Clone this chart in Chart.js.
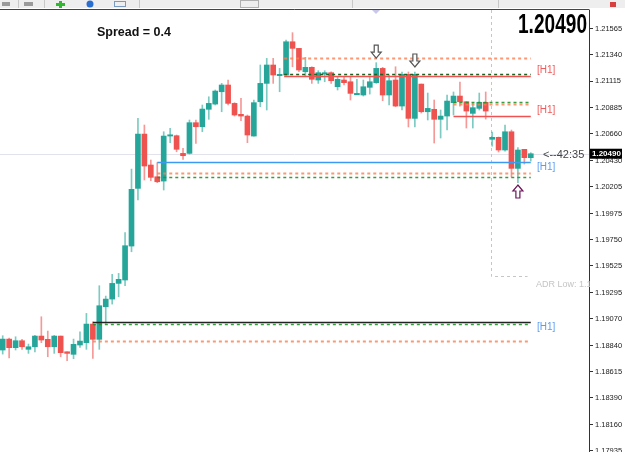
<!DOCTYPE html>
<html>
<head>
<meta charset="utf-8">
<script src="https://cdn.jsdelivr.net/npm/chart.js@4.4.0/dist/chart.umd.min.js"></script>
<style>
    html, body { margin: 0; padding: 0; background: #ffffff; overflow: hidden; }
    #grafico { display: block; }
</style>
</head>
<body>
<canvas id="grafico" width="625" height="452"></canvas>
<script>
// candles, oldest first
const opens = [
    1.18802, 1.18896, 1.18822, 1.18882, 1.18808, 1.18830, 1.18922, 1.18894, 1.18830, 1.18922,
    1.18787, 1.18765, 1.18845, 1.18865, 1.19025, 1.18894, 1.19174, 1.19240, 1.19375, 1.19404,
    1.19696, 1.20192, 1.20659, 1.20393, 1.20292, 1.20255, 1.20642, 1.20645, 1.20493, 1.20493,
    1.20757, 1.20722, 1.20872, 1.20917, 1.21023, 1.21081, 1.20923, 1.20829, 1.20814, 1.20642,
    1.20937, 1.21095, 1.21253, 1.21161, 1.21167, 1.21453, 1.21396, 1.21195, 1.21233, 1.21124,
    1.21175, 1.21187, 1.21066, 1.21124, 1.21109, 1.20997, 1.20995, 1.21061, 1.21101, 1.21224,
    1.20995, 1.21124, 1.20900, 1.21173, 1.20794, 1.21089, 1.20851, 1.20872, 1.20786, 1.20814,
    1.20929, 1.20986, 1.20937, 1.20837, 1.20880, 1.20932, 1.20614, 1.20631, 1.20522, 1.20679,
    1.20364, 1.20528, 1.20456
];
const highs = [
    1.18925, 1.18905, 1.18916, 1.18894, 1.18853, 1.18928, 1.19088, 1.18965, 1.18928, 1.18922,
    1.18787, 1.18896, 1.18959, 1.19117, 1.19045, 1.19355, 1.19266, 1.19453, 1.19461, 1.19811,
    1.20358, 1.20794, 1.20737, 1.20436, 1.20413, 1.20679, 1.20708, 1.20651, 1.20536, 1.20780,
    1.20780, 1.20909, 1.20980, 1.21038, 1.21095, 1.21124, 1.20929, 1.20966, 1.20823, 1.20952,
    1.21253, 1.21310, 1.21310, 1.21224, 1.21468, 1.21531, 1.21396, 1.21319, 1.21238, 1.21204,
    1.21204, 1.21195, 1.21152, 1.21152, 1.21152, 1.21130, 1.21124, 1.21152, 1.21273, 1.21233,
    1.21167, 1.21238, 1.21193, 1.21193, 1.21193, 1.21089, 1.21012, 1.20952, 1.20866, 1.20995,
    1.21021, 1.21107, 1.20937, 1.20929, 1.21012, 1.21021, 1.20677, 1.20634, 1.20737, 1.20694,
    1.20542, 1.20528, 1.20499
];
const lows = [
    1.18767, 1.18733, 1.18802, 1.18808, 1.18773, 1.18785, 1.18865, 1.18744, 1.18773, 1.18744,
    1.18710, 1.18727, 1.18825, 1.18808, 1.18730, 1.18808, 1.19031, 1.19197, 1.19260, 1.19355,
    1.19647, 1.20092, 1.20264, 1.20258, 1.20241, 1.20178, 1.20585, 1.20507, 1.20442, 1.20487,
    1.20579, 1.20679, 1.20786, 1.20909, 1.20851, 1.20909, 1.20814, 1.20774, 1.20585, 1.20642,
    1.20894, 1.20866, 1.21095, 1.21023, 1.21167, 1.21238, 1.21195, 1.21152, 1.21095, 1.21095,
    1.21109, 1.21095, 1.21038, 1.21081, 1.20952, 1.20997, 1.20986, 1.21003, 1.21095, 1.20946,
    1.20909, 1.20894, 1.20866, 1.20720, 1.20720, 1.20840, 1.20780, 1.20582, 1.20625, 1.20694,
    1.20823, 1.20900, 1.20711, 1.20711, 1.20866, 1.20788, 1.20556, 1.20505, 1.20513, 1.20290,
    1.20241, 1.20401, 1.20427
];
const closes = [
    1.18896, 1.18822, 1.18882, 1.18830, 1.18830, 1.18922, 1.18888, 1.18830, 1.18922, 1.18779,
    1.18773, 1.18851, 1.18879, 1.19025, 1.18894, 1.19183, 1.19240, 1.19375, 1.19410, 1.19699,
    1.20184, 1.20659, 1.20384, 1.20287, 1.20249, 1.20642, 1.20653, 1.20528, 1.20473, 1.20757,
    1.20722, 1.20874, 1.20923, 1.21029, 1.21081, 1.20923, 1.20823, 1.20814, 1.20651, 1.20929,
    1.21095, 1.21253, 1.21167, 1.21173, 1.21453, 1.21396, 1.21210, 1.21233, 1.21130, 1.21187,
    1.21187, 1.21118, 1.21130, 1.21101, 1.21009, 1.21009, 1.21066, 1.21109, 1.21224, 1.20995,
    1.21118, 1.20900, 1.21173, 1.20794, 1.21173, 1.20851, 1.20880, 1.20786, 1.20814, 1.20943,
    1.20986, 1.20937, 1.20857, 1.20886, 1.20932, 1.20857, 1.20631, 1.20522, 1.20679, 1.20364,
    1.20522, 1.20456, 1.20490
];

const priceTicks = [
    1.21565, 1.21340, 1.21115, 1.20885, 1.20660, 1.20430, 1.20205, 1.19975, 1.19750,
    1.19525, 1.19295, 1.19070, 1.18840, 1.18615, 1.18390, 1.18160, 1.17935
];

const currentPrice = 1.20490;
const spreadText = "Spread = 0.4";
const timerText = "<--42:35";

// horizontal levels (price, first candle, last candle, kind)
const levelPrices = [1.20416, 1.20327, 1.20287, 1.21310, 1.21161, 1.21173, 1.20814, 1.20917, 1.20937, 1.19040, 1.19023, 1.18882];
const levelFrom = [24, 24, 24, 43.7, 43.7, 43.7, 70, 70, 70, 14, 14, 14];
const levelTo = [82, 82, 82, 82, 82, 82, 82, 82, 82, 82, 82, 82];
const levelKinds = ["blue", "orange", "green", "orange", "red", "darkgreen", "red", "orange", "green", "black", "green", "orange"];

// [H1] tags at the right end of the levels
const tagPrices = [1.21211, 1.20867, 1.20370, 1.18997];
const tagKinds = ["red", "red", "blue", "blue"];

// signal arrows
const arrowCandles = [58, 64, 80];
const arrowPrices = [1.21313, 1.21236, 1.20221];
const arrowDirs = ["down", "down", "up"];

// ADR box
const adrFrom = 76;
const adrTo = 81.5;
const adrLow = 1.19438;

const teal = "#26a69a";
const red = "#ef5350";

const styles = {
    blue: { color: "#3c9af0", width: 1.5, dash: [] },
    red: { color: "#f05252", width: 1.5, dash: [] },
    black: { color: "#222222", width: 1.5, dash: [] },
    orange: { color: "rgba(255,125,80,0.8)", width: 2, dash: [3, 3] },
    green: { color: "rgba(30,150,40,0.9)", width: 1.5, dash: [3, 3] },
    darkgreen: { color: "#1f5f1f", width: 1.5, dash: [3, 3] }
};

function isUp(i) {
    return closes[i] >= opens[i];
}

function drawArrow(ctx, x, y, dir, stroke) {
    const s = dir === "down" ? -1 : 1;
    ctx.save();
    ctx.beginPath();
    ctx.moveTo(x, y);
    ctx.lineTo(x - 5, y + s * 6);
    ctx.lineTo(x - 2, y + s * 6);
    ctx.lineTo(x - 2, y + s * 13);
    ctx.lineTo(x + 2, y + s * 13);
    ctx.lineTo(x + 2, y + s * 6);
    ctx.lineTo(x + 5, y + s * 6);
    ctx.closePath();
    ctx.fillStyle = "#ffffff";
    ctx.fill();
    ctx.strokeStyle = stroke;
    ctx.lineWidth = 1.2;
    ctx.stroke();
    ctx.restore();
}

const overlay = {
    id: "overlay",
    beforeDraw(chart) {
        const ctx = chart.ctx;
        ctx.save();
        ctx.fillStyle = "#ffffff";
        ctx.fillRect(0, 0, chart.width, chart.height);
        // toolbar strip
        ctx.fillStyle = "#eeeeee";
        ctx.fillRect(0, 0, chart.width, 8);
        ctx.fillStyle = "#9a9a9a";
        ctx.fillRect(2, 2, 8, 4);
        ctx.fillRect(24, 2, 9, 4);
        ctx.fillStyle = "#c8c8c8";
        [18, 44, 139, 240, 352, 498].forEach(x => ctx.fillRect(x, 0, 1, 8));
        ctx.fillStyle = "#2fb82f";
        ctx.fillRect(59, 1, 3, 7);
        ctx.fillRect(56, 3, 9, 3);
        ctx.fillStyle = "#2a6fd0";
        ctx.beginPath();
        ctx.arc(90, 4, 3.5, 0, Math.PI * 2);
        ctx.fill();
        ctx.strokeStyle = "#7a9ac0";
        ctx.strokeRect(114.5, 1.5, 11, 5);
        ctx.strokeStyle = "#b0b0b0";
        ctx.strokeRect(240.5, 0.5, 18, 7);
        ctx.fillStyle = "#d84040";
        ctx.fillRect(610, 2, 6, 5);
        ctx.restore();
    },
    beforeDatasetsDraw(chart) {
        const ctx = chart.ctx;
        const xs = chart.scales.x;
        const ys = chart.scales.y;
        const area = chart.chartArea;
        ctx.save();
        // bid line
        const yb = Math.round(ys.getPixelForValue(currentPrice)) + 0.5;
        ctx.strokeStyle = "#e2e2ec";
        ctx.lineWidth = 1;
        ctx.beginPath();
        ctx.moveTo(area.left, yb);
        ctx.lineTo(area.right, yb);
        ctx.stroke();
        // ADR box
        const xa = Math.round(xs.getPixelForValue(adrFrom)) - 0.5;
        const xb = xs.getPixelForValue(adrTo);
        const ya = Math.round(ys.getPixelForValue(adrLow)) + 0.5;
        ctx.strokeStyle = "#c6c6c6";
        ctx.setLineDash([3, 3]);
        ctx.beginPath();
        ctx.moveTo(xa, area.top);
        ctx.lineTo(xa, ya);
        ctx.lineTo(xb, ya);
        ctx.stroke();
        ctx.setLineDash([]);
        // period separator mark
        ctx.fillStyle = "#c8c8ec";
        ctx.beginPath();
        ctx.moveTo(372, area.top);
        ctx.lineTo(380, area.top);
        ctx.lineTo(376, area.top + 4);
        ctx.fill();
        ctx.restore();
    },
    afterDatasetsDraw(chart) {
        const ctx = chart.ctx;
        const xs = chart.scales.x;
        const ys = chart.scales.y;
        const area = chart.chartArea;
        ctx.save();
        levelPrices.forEach((p, i) => {
            const st = styles[levelKinds[i]];
            const y = Math.round(ys.getPixelForValue(p)) + 0.5;
            ctx.strokeStyle = st.color;
            ctx.lineWidth = st.width;
            ctx.setLineDash(st.dash);
            ctx.beginPath();
            ctx.moveTo(xs.getPixelForValue(levelFrom[i]), y);
            ctx.lineTo(xs.getPixelForValue(levelTo[i]), y);
            ctx.stroke();
        });
        ctx.setLineDash([]);

        arrowCandles.forEach((c, i) => {
            const x = xs.getPixelForValue(c);
            const y = ys.getPixelForValue(arrowPrices[i]);
            drawArrow(ctx, x, y, arrowDirs[i], arrowDirs[i] === "up" ? "#6a1458" : "#555555");
        });

        ctx.font = "10px 'Liberation Sans', Arial, sans-serif";
        ctx.textBaseline = "middle";
        ctx.textAlign = "left";
        tagPrices.forEach((p, i) => {
            ctx.fillStyle = tagKinds[i] === "red" ? "#f05a5a" : "#5a9ef0";
            ctx.fillText("[H1]", 537, ys.getPixelForValue(p));
        });

        ctx.font = "bold 12.5px 'Liberation Sans', Arial, sans-serif";
        ctx.fillStyle = "#111111";
        ctx.fillText(spreadText, 97, 33);

        ctx.beginPath();
        ctx.rect(area.left, area.top, area.right - area.left + 1, area.bottom - area.top);
        ctx.clip();
        ctx.font = "11px 'Liberation Sans', Arial, sans-serif";
        ctx.fillStyle = "#444444";
        ctx.fillText(timerText, 543, ys.getPixelForValue(currentPrice) + 1);
        ctx.font = "9px 'Liberation Sans', Arial, sans-serif";
        ctx.fillStyle = "#c4c4c4";
        ctx.fillText("ADR Low: " + adrLow.toFixed(5), 536, ys.getPixelForValue(adrLow) + 8);
        ctx.restore();
    },
    afterDraw(chart) {
        const ctx = chart.ctx;
        const ys = chart.scales.y;
        const area = chart.chartArea;
        ctx.save();
        // frame
        ctx.strokeStyle = "#444444";
        ctx.lineWidth = 1;
        ctx.beginPath();
        ctx.moveTo(0, 9.5);
        ctx.lineTo(area.right + 0.5, 9.5);
        ctx.stroke();
        // current price tag
        const yc = ys.getPixelForValue(currentPrice);
        ctx.fillStyle = "#000000";
        ctx.fillRect(area.right + 1, yc - 5, 32, 10);
        ctx.fillStyle = "#ffffff";
        ctx.font = "bold 8px 'Liberation Sans', Arial, sans-serif";
        ctx.textAlign = "left";
        ctx.textBaseline = "middle";
        ctx.fillText(currentPrice.toFixed(5), area.right + 3, yc + 0.5);
        // big price
        ctx.font = "bold 28px 'Liberation Sans', Arial, sans-serif";
        const w = ctx.measureText(currentPrice.toFixed(5)).width;
        ctx.translate(518, 33);
        ctx.scale(69 / w, 1);
        ctx.fillStyle = "#000000";
        ctx.textBaseline = "alphabetic";
        ctx.fillText(currentPrice.toFixed(5), 0, 0);
        ctx.restore();
    }
};

const idx = opens.map((o, i) => i);
const wickColors = idx.map(i => isUp(i) ? "rgba(38,166,154,0.6)" : "rgba(239,83,80,0.6)");
const bodyColors = idx.map(i => isUp(i) ? teal : red);

const ctx = document.getElementById("grafico").getContext("2d");
new Chart(ctx, {
    type: "bar",
    data: {
        datasets: [
            {
                label: "wicks",
                data: idx.map(i => ({ x: i, y: [lows[i], highs[i]] })),
                backgroundColor: wickColors,
                barThickness: 1,
                grouped: false,
                minBarLength: 1
            },
            {
                label: "bodies",
                data: idx.map(i => ({ x: i, y: [opens[i], closes[i]] })),
                backgroundColor: bodyColors,
                barThickness: 5,
                grouped: false,
                minBarLength: 1
            }
        ]
    },
    options: {
        responsive: false,
        animation: false,
        layout: { autoPadding: false, padding: { top: 10, left: 0, right: 0, bottom: 0 } },
        plugins: {
            legend: { display: false },
            tooltip: { enabled: false }
        },
        scales: {
            x: {
                type: "linear",
                display: false,
                min: -0.42,
                max: 91.04,
                offset: false
            },
            y: {
                position: "right",
                min: 1.17925,
                max: 1.21726,
                afterBuildTicks: scale => {
                    scale.ticks = priceTicks.map(v => ({ value: v }));
                },
                afterFit: scale => {
                    scale.width = 36;
                    scale.paddingTop = 0;
                    scale.paddingBottom = 0;
                },
                border: { display: true, color: "#333333", width: 1 },
                grid: { drawOnChartArea: false, drawTicks: true, tickLength: 4, color: "#333333" },
                ticks: {
                    padding: 2,
                    color: "#222222",
                    font: { family: "'Liberation Sans', Arial, sans-serif", size: 7.5 },
                    callback: v => v.toFixed(5)
                }
            }
        }
    },
    plugins: [overlay]
});
</script>
</body>
</html>
